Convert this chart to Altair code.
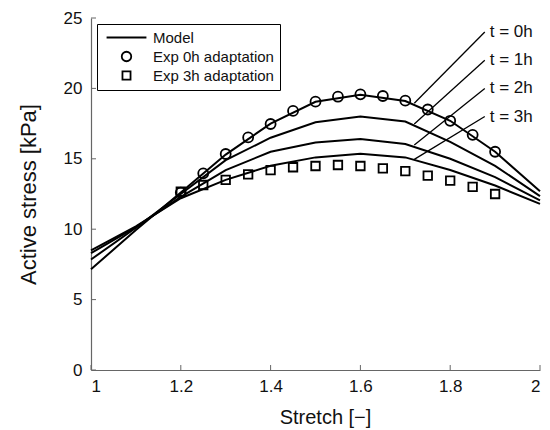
import altair as alt
import pandas as pd

# ---- data ----
stretch_model = [1.0, 1.1, 1.2, 1.3, 1.4, 1.5, 1.6, 1.7, 1.8, 1.9, 2.0]
model_t0 = [7.15, 9.95, 12.6, 15.3, 17.5, 19.05, 19.55, 19.1, 17.7, 15.5, 12.7]
model_t1 = [7.85, 10.1, 12.5, 14.9, 16.5, 17.6, 18.0, 17.65, 16.2, 14.5, 12.35]
model_t2 = [8.3, 10.15, 12.3, 14.2, 15.5, 16.15, 16.4, 16.05, 15.0, 13.7, 12.05]
model_t3 = [8.5, 10.2, 12.2, 13.5, 14.5, 15.1, 15.35, 15.1, 14.2, 13.1, 11.8]
model_names = ["t = 0h", "t = 1h", "t = 2h", "t = 3h"]

stretch_exp = [1.2, 1.25, 1.3, 1.35, 1.4, 1.45, 1.5, 1.55, 1.6, 1.65, 1.7, 1.75, 1.8, 1.85, 1.9]
exp_0h = [12.6, 13.97, 15.34, 16.52, 17.47, 18.4, 19.06, 19.41, 19.58, 19.46, 19.13, 18.5, 17.7, 16.7, 15.5]
exp_3h = [12.66, 13.14, 13.5, 13.9, 14.2, 14.4, 14.49, 14.56, 14.49, 14.32, 14.13, 13.8, 13.45, 13.0, 12.5]

legend_entries = ["Model", "Exp 0h adaptation", "Exp 3h adaptation"]

x_ticks = [1, 1.2, 1.4, 1.6, 1.8, 2]
y_ticks = [0, 5, 10, 15, 20, 25]

label_y = [24.0, 22.0, 20.0, 18.0]
leader_x_start = [1.877, 1.877, 1.877, 1.877]
leader_x_end = [1.72, 1.72, 1.72, 1.72]
leader_y_end = [18.94, 17.47, 15.98, 14.96]

# ---- tables ----
model_rows = []
for name, vals in zip(model_names, [model_t0, model_t1, model_t2, model_t3]):
    for s, v in zip(stretch_model, vals):
        model_rows.append({"stretch": s, "stress": v, "t": name})
model_df = pd.DataFrame(model_rows)

exp_rows = []
for s, v in zip(stretch_exp, exp_0h):
    exp_rows.append({"stretch": s, "stress": v, "series": legend_entries[1]})
for s, v in zip(stretch_exp, exp_3h):
    exp_rows.append({"stretch": s, "stress": v, "series": legend_entries[2]})
exp_df = pd.DataFrame(exp_rows)

leader_df = pd.DataFrame({
    "x1": leader_x_start, "y1": label_y,
    "x2": leader_x_end, "y2": leader_y_end,
    "label": model_names,
})

xt_df = pd.DataFrame({"v": x_ticks})
yt_df = pd.DataFrame({"v": y_ticks})

FONT = "Liberation Sans"
xscale = alt.Scale(domain=[1, 2], nice=False, zero=False)
yscale = alt.Scale(domain=[0, 25], nice=False)

x_enc = alt.X("stretch:Q", scale=xscale,
              axis=alt.Axis(values=x_ticks, format="~g", title="Stretch [−]",
                            titleX=234, titleY=53, titleBaseline="alphabetic",
                            titleAlign="center"))
y_enc = alt.Y("stress:Q", scale=yscale,
              axis=alt.Axis(values=y_ticks, title="Active stress [kPa]",
                            titleX=-51, titleBaseline="bottom", titleAngle=-90,
                            titleFontSize=22))

lines = alt.Chart(model_df).mark_line(color="black", strokeWidth=2).encode(
    x=x_enc, y=y_enc, detail="t:N"
)

points = alt.Chart(exp_df).mark_point(
    filled=False, color="black", strokeWidth=1.8, size=100, opacity=1
).encode(
    x=alt.X("stretch:Q", scale=xscale),
    y=alt.Y("stress:Q", scale=yscale),
    shape=alt.Shape(
        "series:N",
        scale=alt.Scale(domain=legend_entries,
                        range=["M-4.2,0H4.2", "circle", "M-0.85,-0.85H0.85V0.85H-0.85Z"]),
        legend=alt.Legend(
            title=None, orient="none", legendX=6, legendY=6,
            strokeColor="black", fillColor="white", padding=6,
            labelFont=FONT, labelFontSize=15, labelColor="#111",
            symbolStrokeColor="black", symbolStrokeWidth=1.8,
            symbolFillColor="transparent", symbolSize=90,
            rowPadding=2, labelOffset=19, symbolOffset=16,
        ),
    ),
)

leaders = alt.Chart(leader_df).mark_rule(color="black", strokeWidth=1.3).encode(
    x=alt.X("x1:Q", scale=xscale), y=alt.Y("y1:Q", scale=yscale),
    x2="x2:Q", y2="y2:Q",
)

labels = alt.Chart(leader_df).mark_text(
    align="left", baseline="middle", dx=5, fontSize=17, font=FONT, color="#111"
).encode(
    x=alt.X("x1:Q", scale=xscale), y=alt.Y("y1:Q", scale=yscale), text="label:N"
)

xticks = alt.Chart(xt_df).mark_rule(color="#666", strokeWidth=1).encode(
    x=alt.X("v:Q", scale=xscale), y=alt.value(352), y2=alt.value(347)
)
yticks = alt.Chart(yt_df).mark_rule(color="#666", strokeWidth=1).encode(
    y=alt.Y("v:Q", scale=yscale), x=alt.value(0), x2=alt.value(5)
)

chart = alt.layer(xticks, yticks, lines, leaders, points, labels).properties(
    width=449, height=352,
    autosize=alt.AutoSizeParams(type="none"),
    padding={"left": 91, "top": 18, "right": 10, "bottom": 60},
    background="white",
).configure_view(stroke=None).configure_axis(
    grid=False, ticks=False, domainColor="#666", domainWidth=1.2,
    labelFont=FONT, labelFontSize=17, labelColor="#111",
    titleFont=FONT, titleFontSize=20, titleColor="#111", titleFontWeight="normal",
).configure_axisY(labelPadding=9).configure_axisX(labelPadding=8)

chart.save("out.html", embed_options={"renderer": "svg", "actions": False})
